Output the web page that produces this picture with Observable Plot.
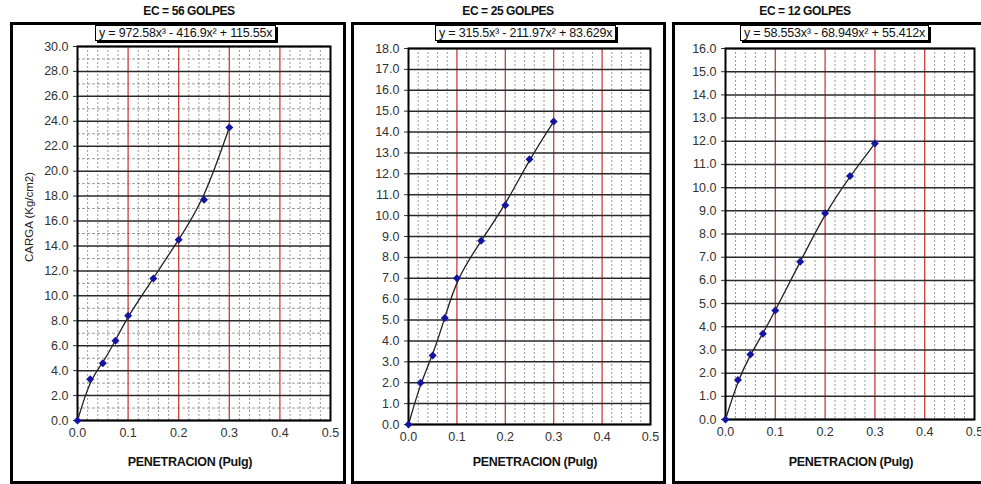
<!DOCTYPE html>
<html>
<head>
<meta charset="utf-8">
<script src="https://cdn.jsdelivr.net/npm/d3@7"></script>
<script src="https://cdn.jsdelivr.net/npm/@observablehq/plot@0.6"></script>
<style>
  html, body { margin: 0; padding: 0; background: #fff; }
  #root { position: relative; width: 981px; height: 484px; overflow: hidden; background: #fff;
          font-family: Arial, "Liberation Sans", sans-serif; }
  .frame { position: absolute; border: 3px solid #000; box-sizing: border-box; }
  .title { position: absolute; font-weight: bold; font-size: 12px; letter-spacing: -0.4px; color: #111;
           transform: translateX(-50%); white-space: nowrap; }
  .eq { position: absolute; background: #fff; border: 1px solid #000; box-shadow: 2px 2px 0 #000;
        font-size: 12.5px; color: #111; white-space: nowrap; padding: 0 3px; line-height: 14px; letter-spacing: -0.2px; }
  .xlab { position: absolute; font-weight: bold; font-size: 12.5px; color: #111; transform: translateX(-50%);
          white-space: nowrap; letter-spacing: -0.3px; }
  .ylab { position: absolute; font-size: 11.5px; color: #222; white-space: nowrap;
          transform: translate(-50%, -50%) rotate(-90deg); }
  .plotwrap { position: absolute; top: 0; }
  .plotwrap svg { overflow: visible; }
</style>
</head>
<body>
<div id="root"></div>
<script>
// ---- data ----
const penetracion = [0, 0.025, 0.05, 0.075, 0.1, 0.15, 0.2, 0.25, 0.3];
const carga56 = [0, 3.3, 4.6, 6.4, 8.4, 11.4, 14.5, 17.7, 23.5];
const carga25 = [0, 2.0, 3.3, 5.1, 7.0, 8.8, 10.5, 12.7, 14.5];
const carga12 = [0, 1.7, 2.8, 3.7, 4.7, 6.8, 8.9, 10.5, 11.9];

const titles = ["EC = 56 GOLPES", "EC = 25 GOLPES", "EC = 12 GOLPES"];
const equations = [
  "y = 972.58x³ - 416.9x² + 115.55x",
  "y = 315.5x³ - 211.97x² + 83.629x",
  "y = 58.553x³ - 68.949x² + 55.412x"
];
const xTicks = [0, 0.1, 0.2, 0.3, 0.4, 0.5];
const xRed = [0.1, 0.2, 0.3, 0.4];
const xMinor = [0.02, 0.04, 0.06, 0.08, 0.12, 0.14, 0.16, 0.18, 0.22, 0.24, 0.26, 0.28,
                0.32, 0.34, 0.36, 0.38, 0.42, 0.44, 0.46, 0.48];
const yMax = [30, 18, 16];
const yStep = [2, 1, 1];
const xLabel = "PENETRACION (Pulg)";
const yLabel = "CARGA (Kg/cm2)";

// ---- layout ----
const root = document.getElementById("root");
const panels = [
  {frame: [10, 22, 336, 462], svgLeft: 12, width: 330, mL: 65, mR: 12, mT: 46, mB: 64,
   titleX: 189, eq: [95, 25], xlabX: 190, carga: carga56},
  {frame: [351, 22, 315, 462], svgLeft: 353, width: 310, mL: 55, mR: 13, mT: 48, mB: 60,
   titleX: 508, eq: [435, 25], xlabX: 535, carga: carga25},
  {frame: [672, 22, 330, 462], svgLeft: 674, width: 307, mL: 51, mR: 7, mT: 48, mB: 65,
   titleX: 805, eq: [740, 25], xlabX: 851, carga: carga12}
];

panels.forEach((p, i) => {
  const data = penetracion.map((x, k) => ({x, y: p.carga[k]}));
  const yMajor = d3.range(0, yMax[i] + 1e-9, yStep[i]);
  const yMinor = yStep[i] === 2 ? d3.range(1, yMax[i], 2) : [];

  const chart = Plot.plot({
    width: p.width,
    height: 484,
    marginLeft: p.mL, marginRight: p.mR, marginTop: p.mT, marginBottom: p.mB,
    style: {background: "transparent", fontFamily: "Arial, 'Liberation Sans', sans-serif", fontSize: "12.5px", color: "#333"},
    x: {domain: [0, 0.5], ticks: xTicks, tickFormat: d3.format(".1f"), tickSize: 0, tickPadding: 8, label: null},
    y: {domain: [0, yMax[i]], ticks: yMajor, tickFormat: d3.format(".1f"), tickSize: 4, tickPadding: 5, label: null},
    marks: [
      Plot.ruleX(xMinor, {stroke: "#999", strokeWidth: 1, strokeDasharray: "2,2"}),
      Plot.ruleY(yMinor, {stroke: "#999", strokeWidth: 1, strokeDasharray: "3,2"}),
      Plot.ruleX(xRed, {stroke: "#d03c3c", strokeWidth: 1.3}),
      Plot.ruleY(yMajor, {stroke: "#2a2a2a", strokeWidth: 1.5}),
      Plot.frame({stroke: "#000", strokeWidth: 2}),
      Plot.line(data, {x: "x", y: "y", curve: "basis", stroke: "#222", strokeWidth: 1.3}),
      Plot.dot(data, {x: "x", y: "y", symbol: "diamond2", r: 3.6, fill: "#1414a0", stroke: "none"})
    ]
  });

  const frame = document.createElement("div");
  frame.className = "frame";
  frame.style.left = p.frame[0] + "px";
  frame.style.top = p.frame[1] + "px";
  frame.style.width = p.frame[2] + "px";
  frame.style.height = p.frame[3] + "px";
  root.appendChild(frame);

  const wrap = document.createElement("div");
  wrap.className = "plotwrap";
  wrap.style.left = p.svgLeft + "px";
  wrap.appendChild(chart);
  root.appendChild(wrap);

  const t = document.createElement("div");
  t.className = "title";
  t.textContent = titles[i];
  t.style.left = p.titleX + "px";
  t.style.top = "4px";
  root.appendChild(t);

  const e = document.createElement("div");
  e.className = "eq";
  e.textContent = equations[i];
  e.style.left = p.eq[0] + "px";
  e.style.top = p.eq[1] + "px";
  root.appendChild(e);

  const xl = document.createElement("div");
  xl.className = "xlab";
  xl.textContent = xLabel;
  xl.style.left = p.xlabX + "px";
  xl.style.top = "455px";
  root.appendChild(xl);

  if (i === 0) {
    const yl = document.createElement("div");
    yl.className = "ylab";
    yl.textContent = yLabel;
    yl.style.left = "29px";
    yl.style.top = "217px";
    root.appendChild(yl);
  }
});
</script>
</body>
</html>
